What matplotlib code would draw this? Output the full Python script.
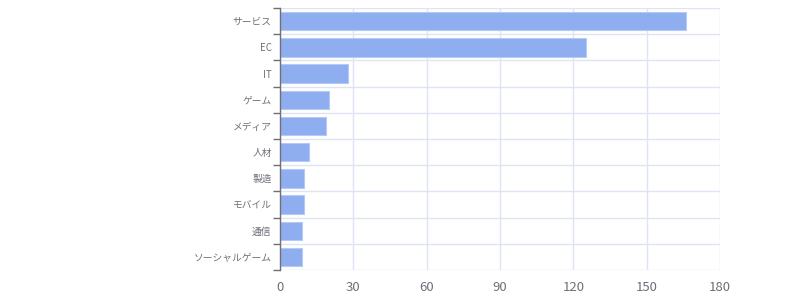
import matplotlib
matplotlib.use('Agg')
import matplotlib.pyplot as plt
import numpy as np

plt.rcParams['font.family'] = ['Noto Sans CJK JP', 'DejaVu Sans']

categories = ['サービス', 'EC', 'IT', 'ゲーム', 'メディア', '人材', '製造', 'モバイル', '通信', 'ソーシャルゲーム']
counts = [166, 125, 28, 20, 19, 12, 10, 10, 9, 9]
x_ticks = [0, 30, 60, 90, 120, 150, 180]

grid_color = '#dfe4f2'
text_color = '#6e7079'

fig = plt.figure(figsize=(8, 3), dpi=100)
ax = fig.add_axes([0.35, 0.1, 0.55, 0.873])

y = np.arange(len(categories))
ax.barh(y, counts, height=0.7, color='#8eaef0', edgecolor='#b5c9f5', linewidth=0.8, zorder=3)

ax.set_xlim(0, 180)
ax.set_ylim(len(categories) - 0.5, -0.5)
ax.set_xticks(x_ticks)
ax.set_yticks(y)
ax.set_yticklabels(categories)
ax.set_yticks(np.arange(len(categories) + 1) - 0.5, minor=True)

ax.grid(axis='x', color=grid_color, linewidth=1, zorder=0)
ax.grid(axis='y', which='minor', color=grid_color, linewidth=1, zorder=0)
ax.tick_params(axis='y', which='major', length=0, pad=6, labelsize=7, labelcolor=text_color)
ax.tick_params(axis='y', which='minor', length=5, width=1, color='#6e7079')
ax.tick_params(axis='x', length=0, pad=8, labelsize=9.5, labelcolor=text_color)

for side in ['top', 'right', 'bottom']:
    ax.spines[side].set_visible(False)
ax.spines['left'].set_color('#6e7079')
ax.spines['left'].set_linewidth(1)
ax.spines['left'].set_zorder(4)

fig.savefig('out.png', dpi=100)
